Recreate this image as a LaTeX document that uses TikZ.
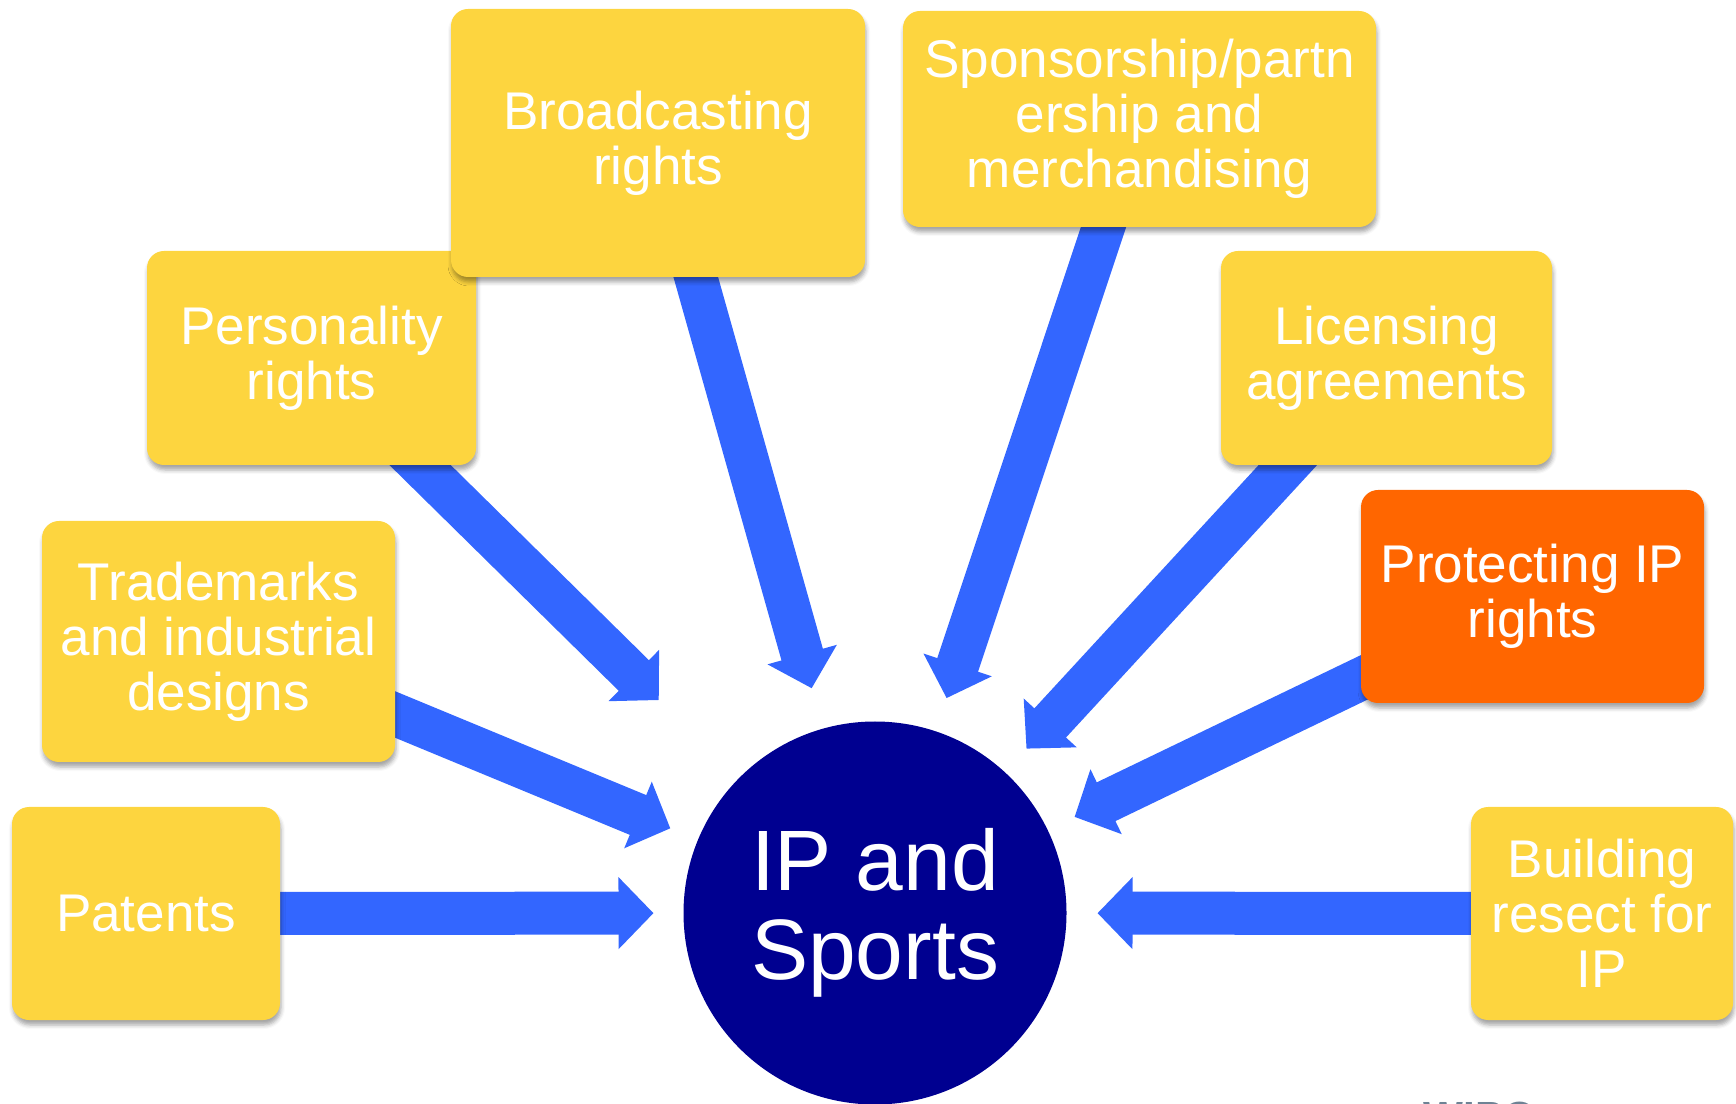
\documentclass[tikz,border=0pt]{standalone}
\usepackage{fontspec}
\setmainfont{Liberation Sans}
\usetikzlibrary{arrows.meta, positioning, shadows.blur}
\usepackage{xcolor}
\definecolor{boxyellow}{RGB}{253,213,63}
\definecolor{boxorange}{RGB}{255,102,0}
\definecolor{arrowblue}{RGB}{51,102,255}
\definecolor{ipnavy}{RGB}{0,0,144}
\definecolor{logogrey}{RGB}{110,130,148}
\pgfdeclarelayer{background}
\pgfsetlayers{background,main}

\begin{document}
\begin{tikzpicture}[
    box/.style={fill=boxyellow, rounded corners=0.17cm, text=white, align=center,
        font=\fontsize{15.1}{15.6}\selectfont, inner sep=0pt, outer sep=0pt,
        blur shadow={shadow xshift=0.01cm, shadow yshift=-0.05cm,
            shadow blur radius=0.04cm, shadow opacity=35}},
    hub/.style={circle, fill=ipnavy, text=white, align=center, minimum size=3.83cm,
        font=\fontsize{24.4}{25.3}\selectfont, inner sep=0pt, outer sep=0pt},
    feed/.style={draw=arrowblue, line width=0.43cm, shorten <=-0.3cm,
        -{Triangle[width=0.70cm, length=0.35cm]}}]
    \useasboundingbox (0,0) rectangle (17.36,-11.04);

    \node[box, minimum width=2.68cm, minimum height=2.13cm] (pat) at (1.46,-9.135) {Patents};
    \node[box, minimum width=3.53cm, minimum height=2.41cm] (tm) at (2.185,-6.415) {Trademarks\\and industrial\\designs};
    \node[box, minimum width=3.29cm, minimum height=2.14cm] (pers) at (3.115,-3.58) {Personality\\rights};
    \node[box, minimum width=4.14cm, minimum height=2.68cm] (brd) at (6.58,-1.43) {Broadcasting\\rights};
    \node[box, minimum width=4.73cm, minimum height=2.16cm] (spon) at (11.395,-1.19) {Sponsorship/partn\\ership and\\merchandising};
    \node[box, minimum width=3.31cm, minimum height=2.14cm] (lic) at (13.865,-3.58) {Licensing\\agreements};
    \node[box, fill=boxorange, minimum width=3.43cm, minimum height=2.13cm] (prot) at (15.325,-5.965) {Protecting IP\\rights};
    \node[box, minimum width=2.62cm, minimum height=2.13cm] (bld) at (16.02,-9.135) {Building\\resect for\\IP};

    \node[hub] (ip) at (8.75,-9.13) {IP and\\Sports};

    \node[anchor=north west, inner sep=0pt, text=logogrey,
        font=\bfseries\fontsize{12}{12}\selectfont] (logo) at (14.23,-11.01) {WIPO};

    \begin{pgfonlayer}{background}
        \draw[feed, shorten >=0.30cm] (pat) -- (ip);
        \draw[feed, shorten >=0.30cm] (tm) -- (ip);
        \draw[feed, shorten >=1.12cm] (pers) -- (ip);
        \draw[feed, shorten >=0.42cm] (brd) -- (ip);
        \draw[feed, shorten >=0.35cm] (spon) -- (ip);
        \draw[feed, shorten >=0.32cm] (lic) -- (ip);
        \draw[feed, shorten >=0.30cm] (prot) -- (ip);
        \draw[feed, shorten >=0.31cm] (bld) -- (ip);
    \end{pgfonlayer}

\end{tikzpicture}
\end{document}
